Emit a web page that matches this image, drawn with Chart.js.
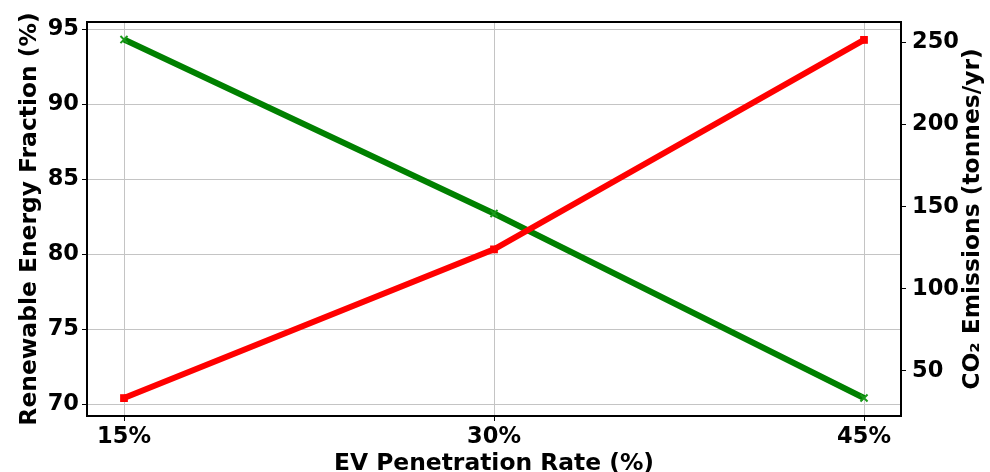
<!DOCTYPE html>
<html>
<head>
<meta charset="utf-8">
<script src="https://cdn.jsdelivr.net/npm/chart.js@4.4.1/dist/chart.umd.min.js"></script>
<style>
  html, body { margin: 0; padding: 0; background: #fff; }
  #wrap { width: 990px; height: 472px; }
</style>
</head>
<body>
<div id="wrap"><canvas id="chart" width="990" height="472"></canvas></div>
<script>
const evRates = [15, 30, 45];
const renewableFraction = [94.3, 82.7, 70.4];
const co2Emissions = [33.5, 124, 251.5];

const xTicks = [15, 30, 45];
const leftTicks = [70, 75, 80, 85, 90, 95];
const rightTicks = [50, 100, 150, 200, 250];

const rightTitle = 'CO₂ Emissions (tonnes/yr)';

const FONT = 'DejaVu Sans';
const gridColor = '#c4c4c4';

// black frame round the plot area, and the right axis title read bottom-to-top
const framePlugin = {
    id: 'frame',
    afterDraw(chart) {
        const a = chart.chartArea;
        const ctx = chart.ctx;
        ctx.save();
        ctx.strokeStyle = '#000';
        ctx.lineWidth = 2;
        ctx.strokeRect(a.left, a.top, a.right - a.left, a.bottom - a.top);

        ctx.translate(973, (a.top + a.bottom) / 2);
        ctx.rotate(-Math.PI / 2);
        ctx.fillStyle = '#000';
        ctx.font = 'bold 23.4px "' + FONT + '"';
        ctx.textAlign = 'center';
        ctx.textBaseline = 'middle';
        ctx.fillText(rightTitle, 0, 0);
        ctx.restore();
    }
};

function fixTicks(values) {
    return function(scale) {
        scale.ticks = values.map(v => ({ value: v }));
    };
}

const ctx = document.getElementById('chart').getContext('2d');
new Chart(ctx, {
    type: 'line',
    data: {
        datasets: [
            {
                label: 'CO2 Emissions',
                data: evRates.map((x, i) => ({ x: x, y: co2Emissions[i] })),
                yAxisID: 'yRight',
                borderColor: '#ff0000',
                backgroundColor: '#ff0000',
                borderWidth: 6,
                pointStyle: 'rect',
                pointRadius: 5.5,
                pointBorderWidth: 0,
                order: 1
            },
            {
                label: 'Renewable Energy Fraction',
                data: evRates.map((x, i) => ({ x: x, y: renewableFraction[i] })),
                yAxisID: 'yLeft',
                borderColor: '#008000',
                backgroundColor: '#008000',
                borderWidth: 6,
                pointStyle: 'crossRot',
                pointRadius: 5,
                pointBorderWidth: 2,
                pointBorderColor: '#1a9a1a',
                order: 2
            }
        ]
    },
    options: {
        responsive: false,
        animation: false,
        layout: { padding: { top: 22, left: 0, right: 0, bottom: 0 } },
        plugins: {
            legend: { display: false },
            tooltip: { enabled: false }
        },
        scales: {
            x: {
                type: 'linear',
                min: 13.5,
                max: 46.5,
                afterBuildTicks: fixTicks(xTicks),
                afterFit(scale) { scale.height = 56; },
                grid: { color: gridColor, lineWidth: 1, tickLength: 5, tickColor: '#000' },
                border: { color: '#000', width: 2 },
                ticks: {
                    color: '#000',
                    padding: 3,
                    font: { family: FONT, size: 22.5, weight: 'bold' },
                    callback: v => v + '%'
                },
                title: {
                    display: true,
                    text: 'EV Penetration Rate (%)',
                    color: '#000',
                    padding: { top: 0, bottom: -6 },
                    font: { family: FONT, size: 23.4, weight: 'bold' }
                }
            },
            yLeft: {
                type: 'linear',
                position: 'left',
                min: 69.2,
                max: 95.47,
                afterBuildTicks: fixTicks(leftTicks),
                afterFit(scale) { scale.width = 87; },
                grid: { color: gridColor, lineWidth: 1, tickLength: 5, tickColor: '#000' },
                border: { color: '#000', width: 2 },
                ticks: {
                    color: '#000',
                    padding: 3,
                    font: { family: FONT, size: 22.5, weight: 'bold' }
                },
                title: {
                    display: true,
                    text: 'Renewable Energy Fraction (%)',
                    color: '#000',
                    padding: { top: 16, bottom: 0 },
                    font: { family: FONT, size: 23.4, weight: 'bold' }
                }
            },
            yRight: {
                type: 'linear',
                position: 'right',
                min: 22.6,
                max: 262.4,
                afterBuildTicks: fixTicks(rightTicks),
                afterFit(scale) { scale.width = 89; },
                grid: { drawOnChartArea: false, tickLength: 5, tickColor: '#000' },
                border: { color: '#000', width: 2 },
                ticks: {
                    color: '#000',
                    padding: 6,
                    font: { family: FONT, size: 22.5, weight: 'bold' }
                },
                title: { display: false }
            }
        }
    },
    plugins: [framePlugin]
});
</script>
</body>
</html>
